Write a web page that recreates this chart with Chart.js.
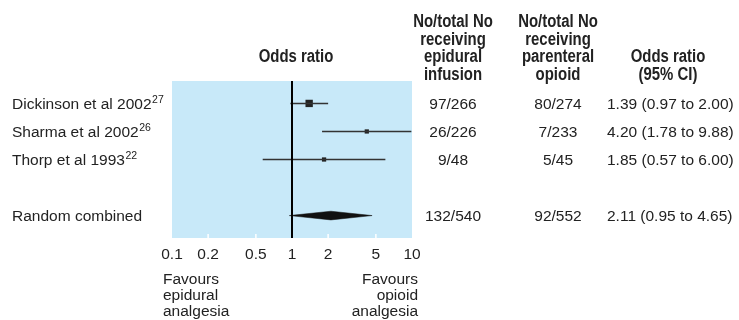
<!DOCTYPE html>
<html>
<head>
<meta charset="utf-8">
<script src="https://cdn.jsdelivr.net/npm/chart.js@4.4.1/dist/chart.umd.min.js"></script>
<style>
  body { margin: 0; background: #fff; }
  canvas { display: block; }
</style>
</head>
<body>
<canvas id="forest" width="739" height="320"></canvas>
<script>
// Study rows (row index from top of the plot)
const studies = ['Dickinson et al 2002', 'Sharma et al 2002', 'Thorp et al 1993'];
const refs = ['27', '26', '22'];
const rows = [0, 1, 2];
const oddsRatio = [1.39, 4.20, 1.85];
const ciLow = [0.97, 1.78, 0.57];
const ciHigh = [2.00, 9.88, 6.00];
const epiduralCounts = ['97/266', '26/226', '9/48'];
const opioidCounts = ['80/274', '7/233', '5/45'];

// Pooled estimate
const pooledLabel = 'Random combined';
const pooledRow = 4;
const pooledOR = 2.11;
const pooledLow = 0.95;
const pooledHigh = 4.65;
const pooledEpidural = '132/540';
const pooledOpioid = '92/552';

const tickValues = [0.1, 0.2, 0.5, 1, 2, 5, 10];

const FONT = '"Liberation Sans", Arial, sans-serif';
const TEXT = '#222';
const Y_MIN = -0.8, Y_MAX = 4.8;
const DIAMOND_H = 0.155;

function fmt(v) { return v.toFixed(2); }

// bold headers are a condensed face in the original, so squeeze them a bit
function header(ctx, t, x, y) {
  ctx.save();
  ctx.translate(x, y);
  ctx.scale(0.83, 1);
  ctx.fillText(t, 0, 0);
  ctx.restore();
}

// one line dataset per confidence interval
const ciSets = studies.map((s, i) => ({
  type: 'line',
  data: [{ x: ciLow[i], y: rows[i] }, { x: ciHigh[i], y: rows[i] }],
  borderColor: '#333',
  borderWidth: 1.5,
  pointRadius: 0,
  fill: false
}));

// background panel + white tick marks
const panelPlugin = {
  id: 'panel',
  beforeDatasetsDraw(chart) {
    const { ctx, chartArea: a, scales } = chart;
    ctx.save();
    ctx.fillStyle = '#c8e9f9';
    ctx.fillRect(a.left, a.top, a.right - a.left, a.bottom - a.top);
    ctx.strokeStyle = '#fff';
    ctx.lineWidth = 1.5;
    tickValues.slice(1, -1).forEach(v => {
      const x = scales.x.getPixelForValue(v);
      ctx.beginPath();
      ctx.moveTo(x, a.bottom);
      ctx.lineTo(x, a.bottom - 4);
      ctx.stroke();
    });
    ctx.restore();
  }
};

// all the table text around the plot
const textPlugin = {
  id: 'tableText',
  afterDraw(chart) {
    const { ctx, scales } = chart;
    const y = scales.y;
    ctx.save();
    ctx.fillStyle = TEXT;

    // headers
    ctx.font = 'bold 18px ' + FONT;
    ctx.textAlign = 'center';
    ctx.textBaseline = 'alphabetic';
    ['No/total No', 'receiving', 'epidural', 'infusion'].forEach((t, i) => header(ctx, t, 453, 27 + i * 17.5));
    ['No/total No', 'receiving', 'parenteral', 'opioid'].forEach((t, i) => header(ctx, t, 558, 27 + i * 17.5));
    header(ctx, 'Odds ratio', 668, 62);
    header(ctx, '(95% CI)', 668, 79.5);
    header(ctx, 'Odds ratio', 296, 62);

    // study rows
    const body = '15.5px ' + FONT;
    ctx.font = body;
    studies.forEach((s, i) => {
      const yy = y.getPixelForValue(rows[i]) + 5.5;
      ctx.textAlign = 'left';
      ctx.font = body;
      ctx.fillText(s, 12, yy);
      const w = ctx.measureText(s).width;
      ctx.font = '10.5px ' + FONT;
      ctx.fillText(refs[i], 12 + w + 0.5, yy - 6);
      ctx.font = body;
      ctx.textAlign = 'center';
      ctx.fillText(epiduralCounts[i], 453, yy);
      ctx.fillText(opioidCounts[i], 558, yy);
      ctx.textAlign = 'left';
      ctx.fillText(fmt(oddsRatio[i]) + ' (' + fmt(ciLow[i]) + ' to ' + fmt(ciHigh[i]) + ')', 607, yy);
    });

    const py = y.getPixelForValue(pooledRow) + 5.5;
    ctx.textAlign = 'left';
    ctx.fillText(pooledLabel, 12, py);
    ctx.textAlign = 'center';
    ctx.fillText(pooledEpidural, 453, py);
    ctx.fillText(pooledOpioid, 558, py);
    ctx.textAlign = 'left';
    ctx.fillText(fmt(pooledOR) + ' (' + fmt(pooledLow) + ' to ' + fmt(pooledHigh) + ')', 607, py);

    // favours labels
    ctx.textAlign = 'left';
    ['Favours', 'epidural', 'analgesia'].forEach((t, i) => ctx.fillText(t, 163, 284 + i * 16));
    ctx.textAlign = 'right';
    ['Favours', 'opioid', 'analgesia'].forEach((t, i) => ctx.fillText(t, 418, 284 + i * 16));
    ctx.restore();
  }
};

new Chart(document.getElementById('forest'), {
  type: 'scatter',
  data: {
    datasets: [
      {
        type: 'line',
        data: [{ x: 1, y: Y_MIN }, { x: 1, y: Y_MAX }],
        borderColor: '#000',
        borderWidth: 2,
        pointRadius: 0,
        fill: false
      },
      ...ciSets,
      {
        data: rows.map((r, i) => ({ x: oddsRatio[i], y: r })),
        pointStyle: 'rect',
        pointRadius: [5.2, 3, 3],
        backgroundColor: '#222',
        borderWidth: 0
      },
      {
        type: 'line',
        data: [
          { x: pooledLow, y: pooledRow },
          { x: pooledOR, y: pooledRow - DIAMOND_H },
          { x: pooledHigh, y: pooledRow }
        ],
        borderColor: '#111',
        borderWidth: 0.5,
        pointRadius: 0,
        fill: false
      },
      {
        type: 'line',
        data: [
          { x: pooledLow, y: pooledRow },
          { x: pooledOR, y: pooledRow + DIAMOND_H },
          { x: pooledHigh, y: pooledRow }
        ],
        borderColor: '#111',
        borderWidth: 0.5,
        backgroundColor: '#111',
        pointRadius: 0,
        fill: '-1'
      }
    ]
  },
  options: {
    responsive: false,
    animation: false,
    devicePixelRatio: 1,
    layout: { padding: { left: 172, right: 327, top: 81, bottom: 52 } },
    plugins: { legend: { display: false }, tooltip: { enabled: false } },
    scales: {
      x: {
        type: 'logarithmic',
        min: 0.1,
        max: 10,
        grid: { display: false, drawTicks: false },
        border: { display: false },
        afterBuildTicks: s => { s.ticks = tickValues.map(v => ({ value: v })); },
        afterFit: s => { s.height = 30; },
        ticks: {
          autoSkip: false,
          maxRotation: 0,
          padding: 7,
          color: TEXT,
          font: { family: FONT, size: 15.5 },
          callback: v => String(v)
        }
      },
      y: {
        type: 'linear',
        reverse: true,
        min: Y_MIN,
        max: Y_MAX,
        display: false
      }
    }
  },
  plugins: [panelPlugin, textPlugin]
});
</script>
</body>
</html>
